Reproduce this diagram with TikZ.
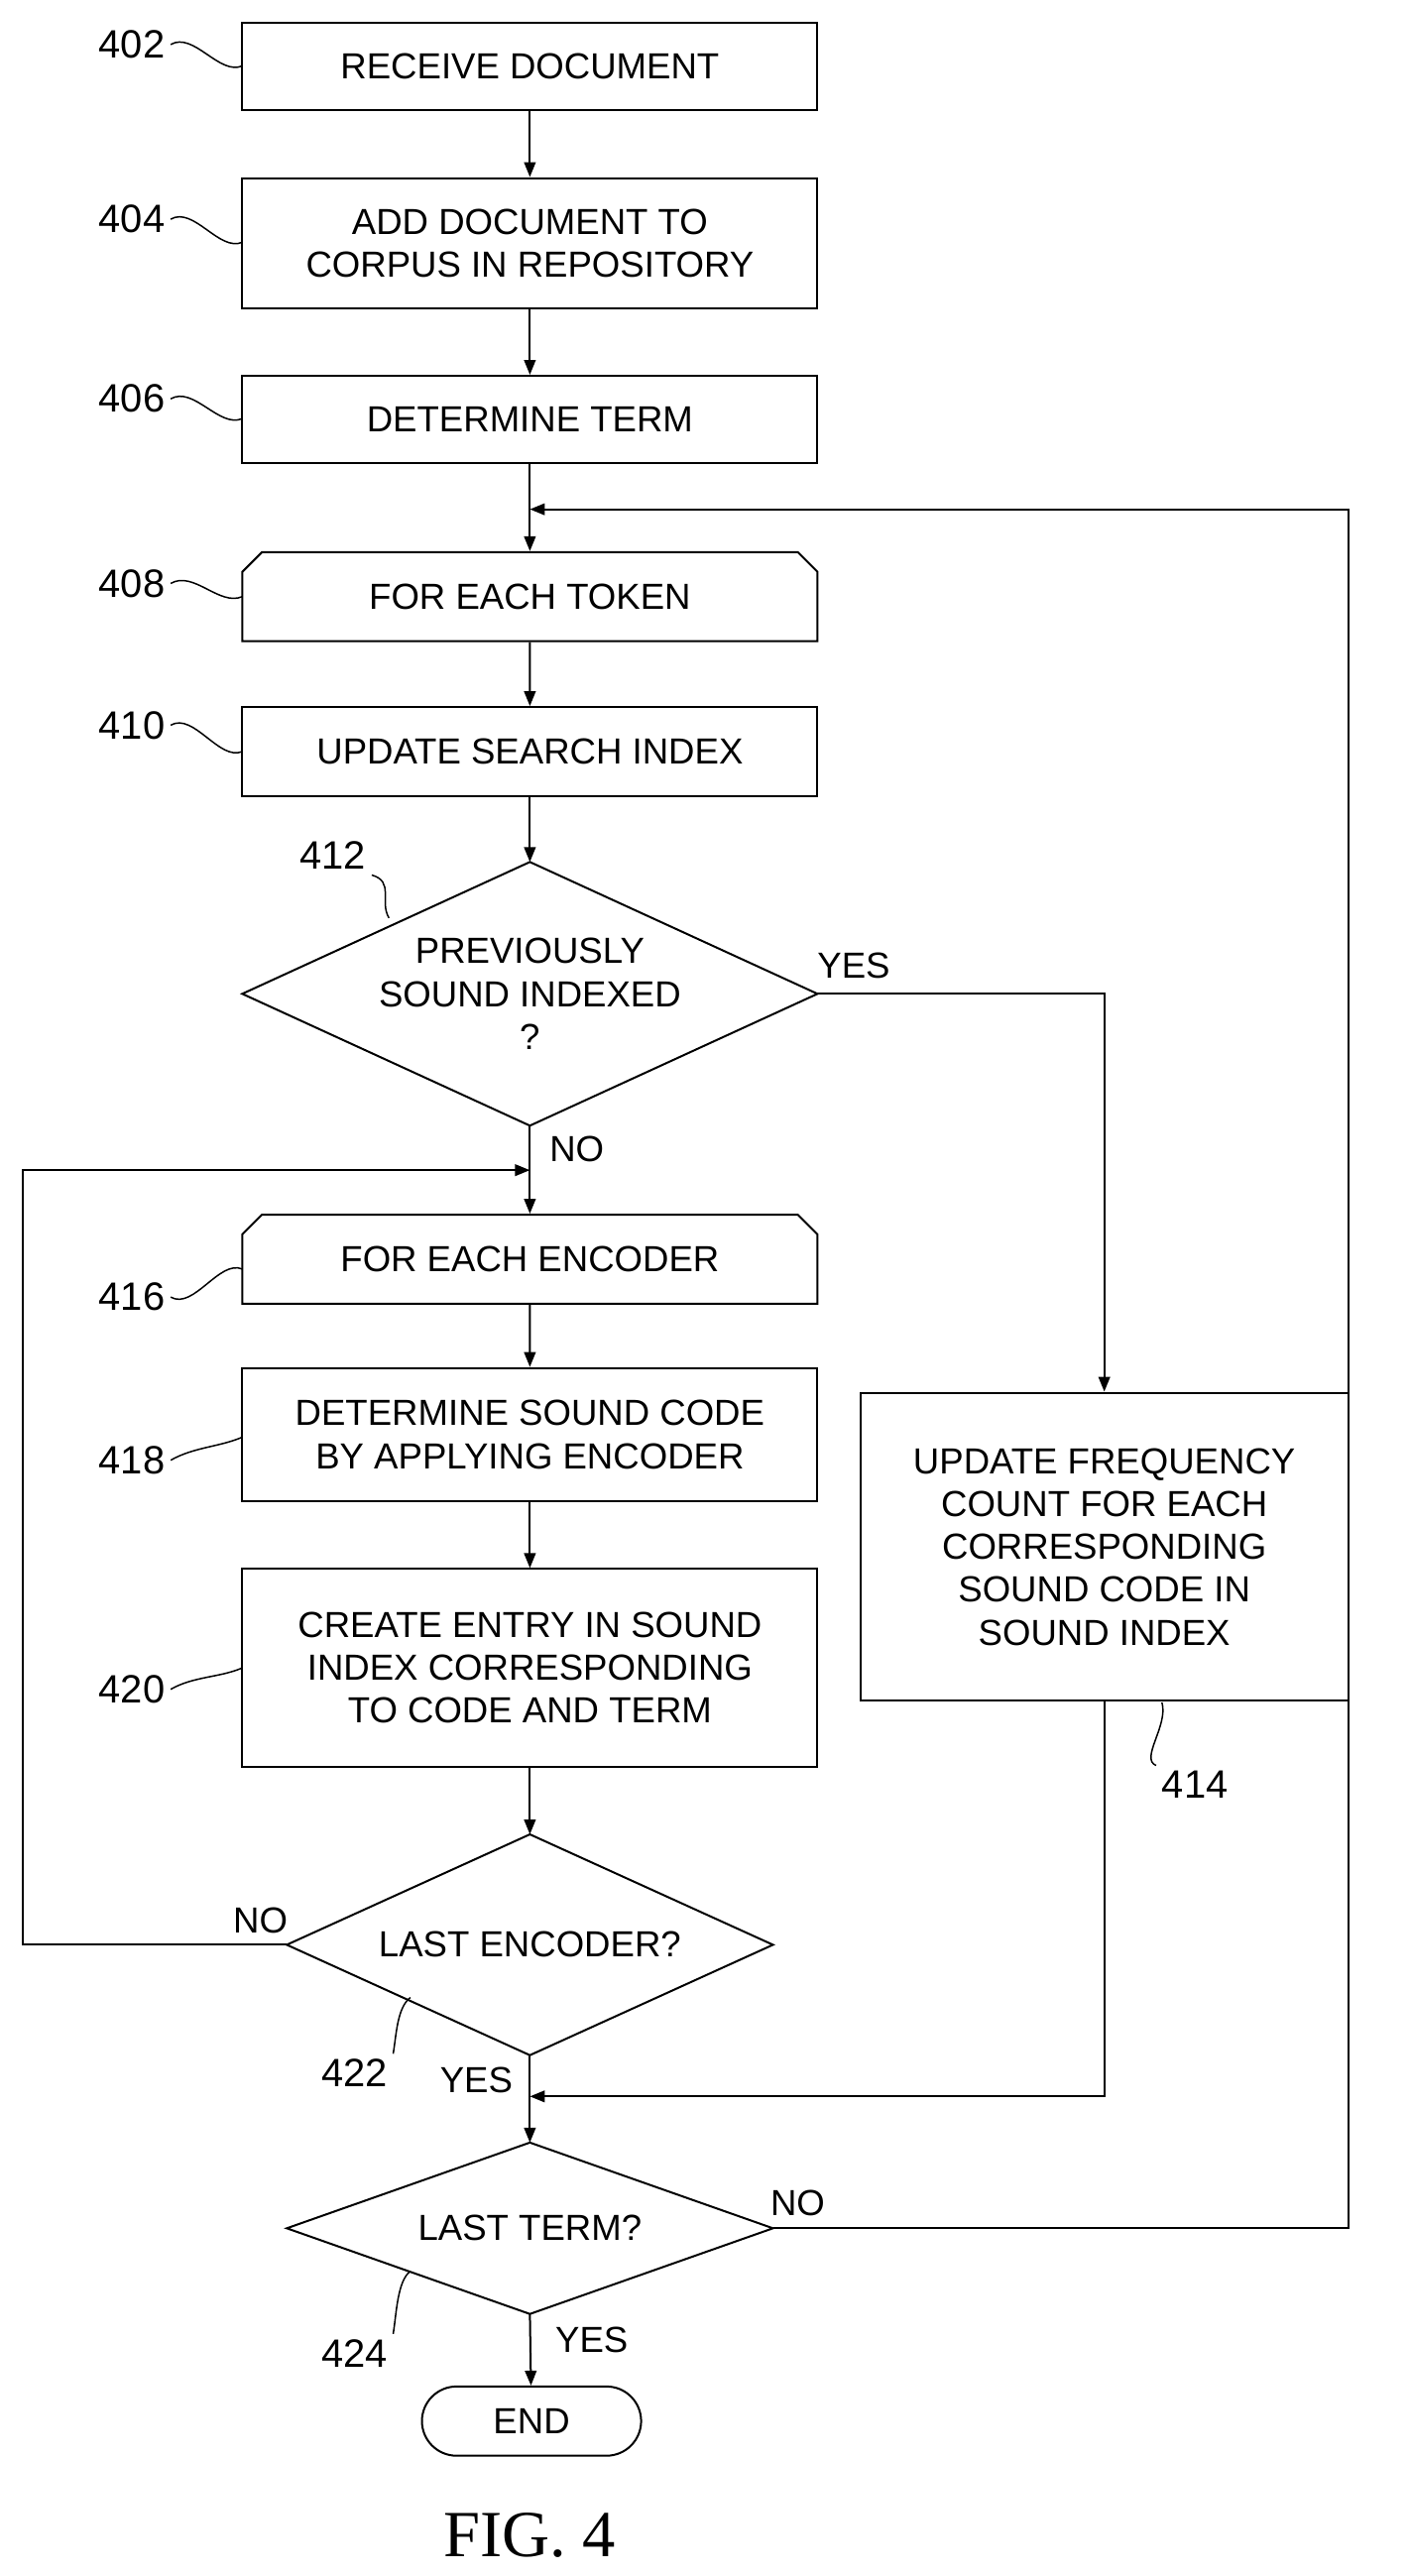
\documentclass[tikz,border=0pt]{standalone}
\usepackage{fontspec}
\setmainfont{Liberation Sans}
\newfontfamily\figfont{Liberation Serif}
\usetikzlibrary{shapes.misc,arrows.meta}
\begin{document}
\begin{tikzpicture}[x=1pt,y=-1pt,
  every node/.style={font=\fontsize{22}{26}\selectfont},
  box/.style={draw,line width=1.2pt,minimum width=349pt,align=center,inner sep=0pt},
  loopbox/.style={box,chamfered rectangle,chamfered rectangle corners={north west,north east},chamfered rectangle xsep=6pt,chamfered rectangle ysep=6pt},
  ln/.style={line width=1.2pt},
  ar/.style={ln,-{Triangle[length=9pt,width=7pt]}},
  lbl/.style={font=\fontsize{24}{28}\selectfont},
  sq/.style={line width=0.9pt}]
\useasboundingbox (0,0) rectangle (855,1563);
% boxes
\node[box,minimum height=53pt] (b402) at (321.5,40.5) {RECEIVE DOCUMENT};
\node[box,minimum height=79pt] (b404) at (321.5,147.5) {ADD DOCUMENT TO\\CORPUS IN REPOSITORY};
\node[box,minimum height=53pt] (b406) at (321.5,254.5) {DETERMINE TERM};
\node[loopbox,minimum height=54pt] (b408) at (321.5,362) {FOR EACH TOKEN};
\node[box,minimum height=54pt] (b410) at (321.5,456) {UPDATE SEARCH INDEX};
% diamond 412
\coordinate (d412t) at (321.5,523); \coordinate (d412b) at (321.5,683);
\coordinate (d412l) at (147,603); \coordinate (d412r) at (496,603);
\draw[ln] (d412t)--(d412r)--(d412b)--(d412l)--cycle;
\node[align=center] (t412) at (321.5,603) {PREVIOUSLY\\SOUND INDEXED\\?};
\node[loopbox,minimum height=54pt] (b416) at (321.5,764) {FOR EACH ENCODER};
\node[box,minimum height=81pt] (b418) at (321.5,870.5) {DETERMINE SOUND CODE\\BY APPLYING ENCODER};
\node[box,minimum height=120pt] (b420) at (321.5,1012) {CREATE ENTRY IN SOUND\\INDEX CORRESPONDING\\TO CODE AND TERM};
\node[box,minimum width=296pt,minimum height=187pt] (b414) at (670,938.5) {UPDATE FREQUENCY\\COUNT FOR EACH\\CORRESPONDING\\SOUND CODE IN\\SOUND INDEX};
% diamond 422
\coordinate (d422t) at (321.5,1113); \coordinate (d422b) at (321.5,1247);
\coordinate (d422l) at (174,1180); \coordinate (d422r) at (469,1180);
\draw[ln] (d422t)--(d422r)--(d422b)--(d422l)--cycle;
\node (t422) at (321.5,1180) {LAST ENCODER?};
% diamond 424
\coordinate (d424t) at (321.5,1300); \coordinate (d424b) at (321.5,1404);
\coordinate (d424l) at (174,1352); \coordinate (d424r) at (469,1352);
\draw[ln] (d424t)--(d424r)--(d424b)--(d424l)--cycle;
\node (t424) at (321.5,1352) {LAST TERM?};
\node[draw,ln,rounded rectangle,minimum width=133pt,minimum height=42pt,inner sep=0pt] (end) at (322.5,1469) {END};
\node[font=\figfont\fontsize{40}{44}\selectfont] (fig) at (321.5,1538) {FIG. 4};
% connectors
\coordinate (j309) at (321.5,309);
\coordinate (j710) at (321.5,710);
\coordinate (j1272) at (321.5,1272);
\draw[ar] (b402)--(b404);
\draw[ar] (b404)--(b406);
\draw[ar] (b406.south)--(b408.north);
\draw[ar] (b408)--(b410);
\draw[ar] (b410)--(d412t);
\draw[ar] (d412b)--(b416.north);
\draw[ar] (b416)--(b418);
\draw[ar] (b418)--(b420);
\draw[ar] (b420)--(d422t);
\draw[ar] (d422b)--(d424t);
\draw[ar] (d424b)--(end);
\draw[ar] (d412r)-|(b414.north);
\draw[ar] (b414.south)|-(j1272);
\draw[ar] (d422l)-|(14,710)--(j710);
\draw[ar] (d424r)-|(818,309)--(j309);
% edge labels
\node at (518,586) {YES};
\node at (350,697) {NO};
\node at (158,1165) {NO};
\node at (289,1262) {YES};
\node at (484,1337) {NO};
\node at (359,1420) {YES};
% reference numbers
\node[lbl] (n402) at (80,27) {402};
\node[lbl] (n404) at (80,133) {404};
\node[lbl] (n406) at (80,242) {406};
\node[lbl] (n408) at (80,354) {408};
\node[lbl] (n410) at (80,440) {410};
\node[lbl] (n412) at (202,519) {412};
\node[lbl] (n416) at (80,787) {416};
\node[lbl] (n418) at (80,886) {418};
\node[lbl] (n420) at (80,1025) {420};
\node[lbl] (n414) at (725,1083) {414};
\node[lbl] (n422) at (215,1258) {422};
\node[lbl] (n424) at (215,1428) {424};
\draw[sq] (n402.east) .. controls +(14,-8) and +(-14,6) .. (147,40);
\draw[sq] (n404.east) .. controls +(14,-8) and +(-14,6) .. (147,147);
\draw[sq] (n406.east) .. controls +(14,-8) and +(-14,6) .. (147,254);
\draw[sq] (n408.east) .. controls +(14,-8) and +(-14,6) .. (147,362);
\draw[sq] (n410.east) .. controls +(14,-8) and +(-14,6) .. (147,456);
\draw[sq] (n412.south east) .. controls +(14,4) and +(-6,-10) .. (236,557);
\draw[sq] (n416.east) .. controls +(14,8) and +(-14,-6) .. (147,770);
\draw[sq] (n418.east) .. controls +(14,-8) and +(-14,6) .. (147,872);
\draw[sq] (n420.east) .. controls +(14,-8) and +(-14,6) .. (147,1012);
\draw[sq] (n414.north west) .. controls +(-10,-4) and +(4,14) .. (705,1033);
\draw[sq] (n422.north east) .. controls +(2,-12) and +(-8,6) .. (249,1212);
\draw[sq] (n424.north east) .. controls +(2,-12) and +(-8,6) .. (249,1378);
\end{tikzpicture}
\end{document}
